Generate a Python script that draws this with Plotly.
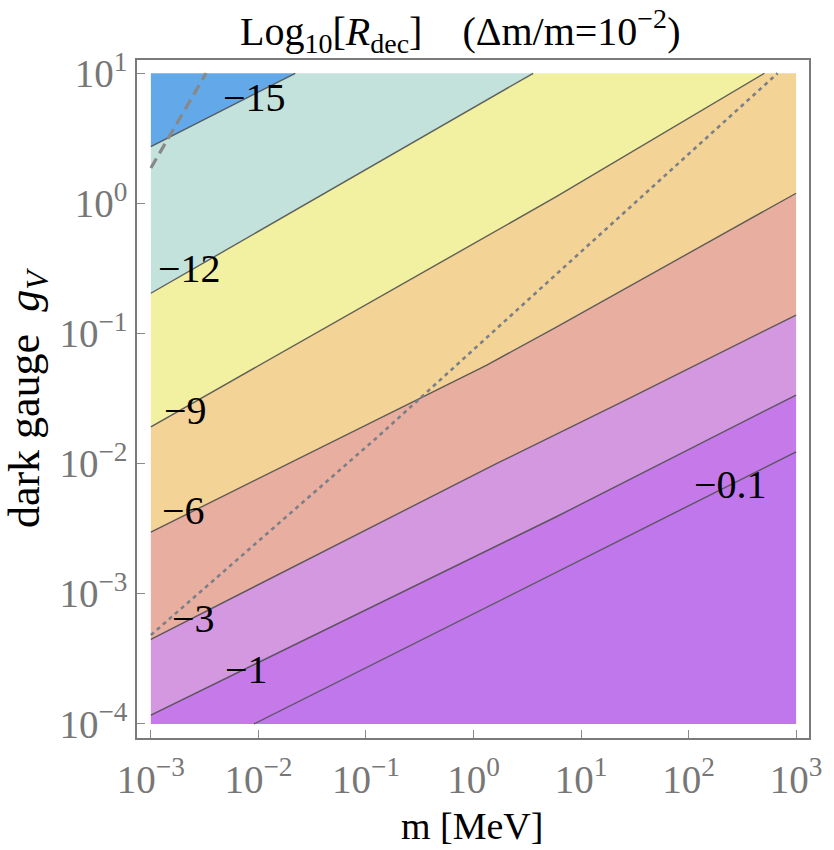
import numpy as np
import plotly.graph_objects as go

# ---------------- data (m in MeV, g dimensionless) -------------
level_labels = ["−15", "−12", "−9", "−6", "−3", "−1", "−0.1"]

m_lvl15 = [0.001, 0.022]
g_lvl15 = [2.73, 10.0]
m_lvl12 = [0.001, 3.59]
g_lvl12 = [0.204, 10.0]
m_lvl9 = [0.001, 5.89, 507.0]
g_lvl9 = [0.0192, 1.126, 10.0]
m_lvl6 = [0.001, 1.33, 5.89, 1000.0]
g_lvl6 = [0.00298, 0.0573, 0.1122, 1.197]
m_lvl3 = [0.001, 1.65, 26.0, 1000.0]
g_lvl3 = [4.47e-4, 0.01005, 0.0308, 0.1387]
m_lvl1 = [0.001, 5.89, 1000.0]
g_lvl1 = [1.17e-4, 0.00391, 0.0337]
m_lvl01 = [0.00909, 5.89, 1000.0]
g_lvl01 = [1e-4, 0.001476, 0.01233]

m_dotted = [0.001, 0.129, 4.75, 673.0]
g_dotted = [4.82e-4, 0.0161, 0.243, 10.0]
m_dashed = [0.001, 0.00326]
g_dashed = [1.87, 10.0]

band_colors = ["#63a9e9", "#c4e2dc", "#f2f0a1", "#f3d496", "#e8afa1",
               "#d498e1", "#c67ae9", "#c177ec"]

label_m = [0.00929, 0.00229, 0.0021, 0.00201, 0.00249, 0.00767, 246.0]
label_g = [6.46, 0.318, 0.0258, 0.00433, 6.5e-4, 2.64e-4, 0.00686]

m_range = [1e-3, 1e3]
g_range = [1e-4, 1e1]

# ---------------- geometry helpers ---------------------------------------------------
X0, X1 = np.log10(m_range[0]), np.log10(m_range[1])
Y0, Y1 = np.log10(g_range[0]), np.log10(g_range[1])
W, H = X1 - X0, Y1 - Y0
P = 2 * (W + H)
corners = [(0.0, (X0, Y0)), (H, (X0, Y1)), (H + W, (X1, Y1)), (2 * H + W, (X1, Y0))]


def perim(pt):
    x, y = pt
    tol = 1e-6
    if abs(x - X0) < tol:
        return y - Y0
    if abs(y - Y1) < tol:
        return H + (x - X0)
    if abs(x - X1) < tol:
        return H + W + (Y1 - y)
    return 2 * H + W + (X1 - x)


def walk(s1, s2):
    d = (s2 - s1) % P
    pts = []
    for s, c in corners:
        ds = (s - s1) % P
        if 0 < ds < d:
            pts.append((ds, c))
    pts.sort()
    return [c for _, c in pts]


def to_log(ms, gs):
    return [(float(np.log10(a)), float(np.log10(b))) for a, b in zip(ms, gs)]


lines = [to_log(m_lvl15, g_lvl15), to_log(m_lvl12, g_lvl12), to_log(m_lvl9, g_lvl9),
         to_log(m_lvl6, g_lvl6), to_log(m_lvl3, g_lvl3), to_log(m_lvl1, g_lvl1),
         to_log(m_lvl01, g_lvl01)]

polys = []
A = lines[0]
polys.append(A[::-1] + walk(perim(A[0]), perim(A[-1])))
for i in range(len(lines) - 1):
    A, B = lines[i], lines[i + 1]
    polys.append(A + walk(perim(A[-1]), perim(B[-1])) + B[::-1] + walk(perim(B[0]), perim(A[0])))
A = lines[-1]
polys.append(A + walk(perim(A[-1]), perim(A[0])))

fig = go.Figure()
for poly, col in zip(polys, band_colors):
    xs = [10 ** p[0] for p in poly] + [10 ** poly[0][0]]
    ys = [10 ** p[1] for p in poly] + [10 ** poly[0][1]]
    fig.add_trace(go.Scatter(x=xs, y=ys, mode="lines", fill="toself", fillcolor=col,
                             line=dict(width=0), hoverinfo="skip", showlegend=False))

for ln in lines:
    fig.add_trace(go.Scatter(x=[10 ** p[0] for p in ln], y=[10 ** p[1] for p in ln],
                             mode="lines", line=dict(color="rgba(70,70,70,0.85)", width=1.4),
                             hoverinfo="skip", showlegend=False))

fig.add_trace(go.Scatter(x=m_dotted, y=g_dotted, mode="lines",
                         line=dict(color="#7a7f88", width=2.6, dash="4px,4px"),
                         hoverinfo="skip", showlegend=False))
fig.add_trace(go.Scatter(x=m_dashed, y=g_dashed, mode="lines",
                         line=dict(color="#888888", width=3.2, dash="11px,6px"),
                         hoverinfo="skip", showlegend=False))

FONT = "Liberation Serif"
for txt, m, g in zip(level_labels, label_m, label_g):
    fig.add_annotation(x=np.log10(m), y=np.log10(g), text=txt, showarrow=False,
                       font=dict(family=FONT, size=40, color="black"),
                       xanchor="center", yanchor="middle")

fig.add_annotation(xref="paper", yref="paper", x=0.481, y=1.043,
                   text="Log<sub>10</sub>[<i>R</i><sub>dec</sub>]\u00a0\u00a0\u00a0\u00a0(Δm/m=10<sup>−2</sup>)",
                   showarrow=False, font=dict(family=FONT, size=40, color="black"),
                   xanchor="center", yanchor="middle")
fig.add_annotation(xref="paper", yref="paper", x=0.4985, y=-0.13,
                   text="m [MeV]", showarrow=False,
                   font=dict(family=FONT, size=38, color="black"),
                   xanchor="center", yanchor="middle")
fig.add_annotation(xref="paper", yref="paper", x=-0.163, y=0.502,
                   text="dark gauge\u00a0\u00a0<i>g<sub>V</sub></i>", showarrow=False, textangle=-90,
                   font=dict(family=FONT, size=44, color="black"),
                   xanchor="center", yanchor="middle")

x_tickvals = [1e-3, 1e-2, 1e-1, 1e0, 1e1, 1e2, 1e3]
x_ticktext = ["10<sup>−3</sup>", "10<sup>−2</sup>", "10<sup>−1</sup>", "10<sup>0</sup>",
              "10<sup>1</sup>", "10<sup>2</sup>", "10<sup>3</sup>"]
y_tickvals = [1e-4, 1e-3, 1e-2, 1e-1, 1e0, 1e1]
y_ticktext = ["10<sup>−4</sup>", "10<sup>−3</sup>", "10<sup>−2</sup>", "10<sup>−1</sup>",
              "10<sup>0</sup>", "10<sup>1</sup>"]

axis_common = dict(showgrid=False, zeroline=False, showline=True, linecolor="#7a7a7a",
                   linewidth=1.5, mirror=True, ticks="inside", ticklen=8, tickcolor="#8a8a8a",
                   tickwidth=1.2, tickfont=dict(family=FONT, size=39, color="#777777"))

fig.update_xaxes(type="log", range=[-3.129, 3.12], tickvals=x_tickvals, ticktext=x_ticktext,
                 ticklabelstandoff=6, **axis_common)
fig.update_yaxes(type="log", range=[-4.108, 1.102], tickvals=y_tickvals, ticktext=y_ticktext,
                 **axis_common)

fig.update_layout(width=834, height=850, margin=dict(l=137, r=19, t=60, b=112),
                  plot_bgcolor="white", paper_bgcolor="white", showlegend=False)

fig.write_html("out.html")
